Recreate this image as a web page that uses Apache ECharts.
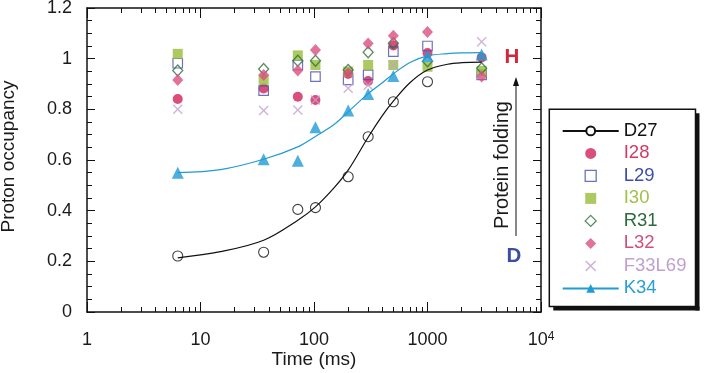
<!DOCTYPE html>
<html><head><meta charset="utf-8">
<script src="https://cdn.jsdelivr.net/npm/echarts@6/dist/echarts.min.js"></script>
<style>html,body{margin:0;padding:0;background:#fff}#c{width:705px;height:373px}</style>
</head><body><div id="c"></div>
<script>
// ---- data ----
const times  = [6.3, 36, 72, 103, 200, 300, 500, 1000, 3000];
const D27    = [0.221, 0.236, 0.405, 0.412, 0.534, 0.692, 0.830, 0.909, null];
const I28    = [0.841, 0.882, 0.850, 0.837, 0.940, 0.912, 1.052, 1.022, 1.005];
const L29    = [0.982, 0.874, 0.975, 0.929, 0.916, 0.936, 1.028, 1.050, 0.936];
const I30    = [1.019, 0.916, 1.013, 0.975, 0.949, 0.975, 0.975, 0.968, 0.952];
const R31    = [0.953, 0.959, 0.992, 0.992, 0.955, 1.025, 1.061, 0.990, 0.962];
const L32    = [0.916, 0.936, 0.953, 1.034, 0.942, 1.060, 1.090, 1.105, 0.930];
const F33L69 = [0.800, 0.795, 0.797, 0.837, 0.883, 0.895, 0.975, null, 1.067];
const K34    = [0.550, 0.603, 0.597, 0.729, 0.795, 0.861, 0.932, 1.011, 1.016];

// fitted curves
const fitTimes = [6.3, 15, 36, 72, 103, 150, 200, 300, 400, 500, 700, 1000, 1500, 2000, 3000];
const D27fit   = [0.214, 0.238, 0.283, 0.362, 0.415, 0.490, 0.560, 0.690, 0.775, 0.832, 0.905, 0.955, 0.978, 0.984, 0.986];
const K34fit   = [0.550, 0.562, 0.603, 0.652, 0.693, 0.740, 0.790, 0.862, 0.905, 0.940, 0.985, 1.011, 1.020, 1.023, 1.024];

const xTickValues = [1, 10, 100, 1000, 10000];
const xTickLabels = ['1', '10', '100', '1000', '10{s|4}'];
const xMinorTicks = [2,3,4,5,6,7,8,9, 20,30,40,50,60,70,80,90, 200,300,400,500,600,700,800,900, 2000,3000,4000,5000,6000,7000,8000,9000];

const seriesNames  = ['D27', 'I28', 'L29', 'I30', 'R31', 'L32', 'F33L69', 'K34'];
const legendColors = ['#111111', '#d03a68', '#3d4eaa', '#a3c04a', '#2d6a3e', '#d24f7c', '#bfa0d0', '#2a9fd8'];

// ---- chart ----
const FONT = "'Liberation Sans', Arial, sans-serif";
const pairs = (xs, ys) => xs.map((x, i) => [x, ys[i]]).filter(p => p[1] != null);
const X_PATH = 'path://M1,0L5,4L9,0L10,1L6,5L10,9L9,10L5,6L1,10L0,9L4,5L0,1Z';
const RECT_PATH = 'path://M0,0L10,0L10,10L0,10Z';
const DIAMOND_PATH = 'path://M5,0L10,5L5,10L0,5Z';

const chart = echarts.init(document.getElementById('c'), null, {renderer: 'canvas', width: 705, height: 373});

const tickLine = {color: '#111', width: 1};
const axLine = {show: true, onZero: false, lineStyle: {color: '#111', width: 1.5}};
const gridRect = {left: 87, right: 164, top: 8, bottom: 61, containLabel: false, outerBoundsMode: 'none'};

function scat(name, data, symbol, size, style) {
  return {type: 'scatter', name, data: pairs(times, data), symbol, symbolSize: size,
    itemStyle: style, xAxisIndex: 0, yAxisIndex: 0, silent: true, emphasis: {disabled: true}};
}

// legend frame (box + drop shadow)
const LB = {l: 549.3, t: 109.3, r: 695.5, b: 306.5, s: 4};

const option = {
  backgroundColor: '#fff',
  animation: false,
  textStyle: {fontFamily: FONT},
  grid: [Object.assign({}, gridRect), Object.assign({}, gridRect)],
  xAxis: [
    {type: 'log', logBase: 10, min: 1, max: 10000, gridIndex: 0, position: 'bottom',
      axisLine: axLine,
      axisTick: {show: true, inside: true, length: 10, lineStyle: tickLine},
      minorTick: {show: false}, splitLine: {show: false},
      axisLabel: {show: true, margin: 19, fontSize: 18, lineHeight: 18, color: '#1a1a1a', fontFamily: FONT,
        formatter: v => { const i = xTickValues.indexOf(Math.round(v)); return i >= 0 ? xTickLabels[i] : ''; },
        rich: {s: {fontSize: 12, verticalAlign: 'top', color: '#1a1a1a', fontFamily: FONT, lineHeight: 18}}}},
    {type: 'log', logBase: 10, min: 1, max: 10000, gridIndex: 0, position: 'top',
      axisLine: axLine,
      axisTick: {show: true, inside: true, length: 10, lineStyle: tickLine},
      axisLabel: {show: false}, splitLine: {show: false}},
    {type: 'log', logBase: 10, min: 1, max: 10000, gridIndex: 1, position: 'bottom',
      axisLine: {show: false},
      axisTick: {show: true, inside: true, length: 5, lineStyle: tickLine, customValues: xMinorTicks},
      axisLabel: {show: false}, splitLine: {show: false}},
    {type: 'log', logBase: 10, min: 1, max: 10000, gridIndex: 1, position: 'top',
      axisLine: {show: false},
      axisTick: {show: true, inside: true, length: 5, lineStyle: tickLine, customValues: xMinorTicks},
      axisLabel: {show: false}, splitLine: {show: false}}
  ],
  yAxis: [
    {type: 'value', min: 0, max: 1.2, interval: 0.2, gridIndex: 0, position: 'left',
      axisLine: axLine,
      axisTick: {show: true, inside: true, length: 8, lineStyle: tickLine},
      minorTick: {show: true, splitNumber: 4, length: 5, lineStyle: tickLine},
      splitLine: {show: false}, minorSplitLine: {show: false},
      axisLabel: {show: true, margin: 15, fontSize: 18, color: '#1a1a1a', fontFamily: FONT}},
    {type: 'value', min: 0, max: 1.2, interval: 0.2, gridIndex: 0, position: 'right',
      axisLine: axLine,
      axisTick: {show: true, inside: true, length: 8, lineStyle: tickLine},
      minorTick: {show: true, splitNumber: 4, length: 5, lineStyle: tickLine},
      splitLine: {show: false}, minorSplitLine: {show: false},
      axisLabel: {show: false}},
    {type: 'value', min: 0, max: 1.2, gridIndex: 1, show: false}
  ],
  legend: {
    orient: 'vertical', left: 549, top: 109, align: 'left', z: 10,
    padding: [12.4, 10, 10, 12.7],
    itemWidth: 56, itemHeight: 11, itemGap: 3.5,
    symbolKeepAspect: true,
    backgroundColor: 'rgba(0,0,0,0)', borderWidth: 0,
    selectedMode: false,
    textStyle: {fontSize: 18.5, lineHeight: 18, fontFamily: FONT},
    data: seriesNames.map((n, i) => {
      const d = {name: n, textStyle: {color: legendColors[i], fontSize: 18.5, lineHeight: 18, fontFamily: FONT}};
      if (n === 'L29' || n === 'R31') d.itemStyle = {borderWidth: 1.3};
      return d;
    })
  },
  series: [
    {type: 'line', name: 'D27', data: pairs(fitTimes, D27fit), smooth: 0.35, showSymbol: false,
      symbol: 'emptyCircle', symbolSize: 10, xAxisIndex: 0, yAxisIndex: 0, silent: true,
      lineStyle: {color: '#111', width: 1.2}, itemStyle: {color: '#111'}},
    scat('D27', D27, 'circle', 10, {color: 'rgba(0,0,0,0)', borderColor: '#111', borderWidth: 1.1}),
    scat('I28', I28, 'circle', 10, {color: '#d2215a'}),
    scat('L29', L29, RECT_PATH, 9.5, {color: 'rgba(0,0,0,0)', borderColor: '#4a4fae', borderWidth: 1.2}),
    scat('I30', I30, RECT_PATH, 10, {color: '#98bd3b'}),
    scat('R31', R31, DIAMOND_PATH, [10, 11], {color: 'rgba(0,0,0,0)', borderColor: '#2d6e3c', borderWidth: 1.3}),
    scat('L32', L32, DIAMOND_PATH, [11, 12], {color: '#d94f80'}),
    scat('F33L69', F33L69, X_PATH, 10, {color: '#c3a0d2'}),
    {type: 'line', name: 'K34', data: pairs(fitTimes, K34fit), smooth: 0.35, showSymbol: false,
      symbol: 'triangle', symbolSize: 12, xAxisIndex: 0, yAxisIndex: 0, silent: true,
      lineStyle: {color: '#1f9bd5', width: 1.2}, itemStyle: {color: '#1f9bd5'}},
    scat('K34', K34, 'triangle', 12, {color: '#1f9bd5'})
  ],
  graphic: [
    {type: 'polygon', z: 20, shape: {points: [[LB.r, LB.t + LB.s], [LB.r + LB.s, LB.t + LB.s], [LB.r + LB.s, LB.b + LB.s], [LB.r, LB.b + LB.s]]}, style: {fill: '#111'}},
    {type: 'polygon', z: 20, shape: {points: [[LB.l + LB.s, LB.b], [LB.r + LB.s, LB.b], [LB.r + LB.s, LB.b + LB.s], [LB.l + LB.s, LB.b + LB.s]]}, style: {fill: '#111'}},
    {type: 'polygon', z: 20, shape: {points: [[LB.l, LB.t], [LB.r, LB.t], [LB.r, LB.b], [LB.l, LB.b]]}, style: {fill: 'none', stroke: '#111', lineWidth: 1.5}},
    {type: 'text', x: 9, y: 156.5, rotation: Math.PI / 2,
      style: {text: 'Proton occupancy', fontSize: 19, fontFamily: FONT, fill: '#1a1a1a', align: 'center', verticalAlign: 'middle'}},
    {type: 'text', x: 314, y: 360,
      style: {text: 'Time (ms)', fontSize: 19, fontFamily: FONT, fill: '#1a1a1a', align: 'center', verticalAlign: 'middle'}},
    {type: 'text', x: 502, y: 165, rotation: Math.PI / 2,
      style: {text: 'Protein folding', fontSize: 20, fontFamily: FONT, fill: '#1a1a1a', align: 'center', verticalAlign: 'middle'}},
    {type: 'text', x: 512, y: 57,
      style: {text: 'H', fontSize: 20.5, fontWeight: 'bold', fontFamily: FONT, fill: '#d2283a', align: 'center', verticalAlign: 'middle'}},
    {type: 'text', x: 514, y: 256.5,
      style: {text: 'D', fontSize: 20.5, fontWeight: 'bold', fontFamily: FONT, fill: '#3b4ea5', align: 'center', verticalAlign: 'middle'}},
    {type: 'line', shape: {x1: 516, y1: 236, x2: 516, y2: 84}, style: {stroke: '#111', lineWidth: 1}},
    {type: 'polygon', shape: {points: [[516, 77], [513, 86], [519, 86]]}, style: {fill: '#111'}}
  ]
};
chart.setOption(option);
</script>
</body></html>
